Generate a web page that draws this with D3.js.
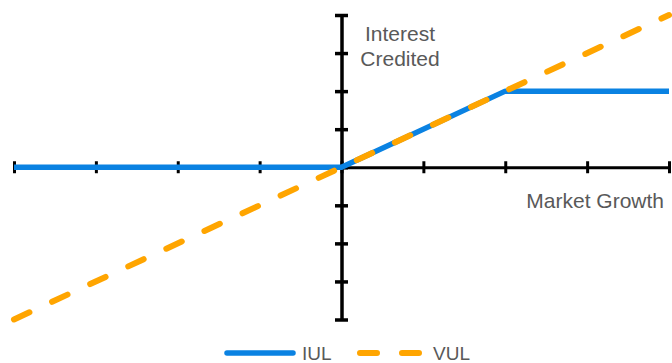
<!DOCTYPE html>
<html>
<head>
<meta charset="utf-8">
<script src="https://cdn.jsdelivr.net/npm/d3@7"></script>
<style>
  body { margin: 0; background: #fff; }
  text { font-family: "Liberation Sans", Arial, sans-serif; fill: #595959; }
</style>
</head>
<body>
<svg id="chart" width="672" height="363"></svg>
<script>
// données
const tickValues = [-4, -3, -2, -1, 0, 1, 2, 3, 4];
const marketGrowth = [-4, 0, 2, 4];
const iulCredited = [0, 0, 2, 2];
const vulGrowth = [-4, 4];
const vulCredited = [-4, 4];
const seriesNames = ["IUL", "VUL"];

const svg = d3.select("#chart");

var x = d3.scaleLinear().domain([-4, 4]).range([14, 669]);
var y = d3.scaleLinear().domain([-4, 4]).range([319.5, 15]);

// axe horizontal (traverse au milieu)
var xAxis = svg.append("g")
    .attr("transform", `translate(0, ${y(0)})`)
    .call(d3.axisBottom(x).tickValues(tickValues).tickSizeOuter(0).tickFormat(""));
xAxis.select(".domain").attr("stroke", "#000").attr("stroke-width", 3);
xAxis.selectAll(".tick line").attr("y1", -6).attr("y2", 6)
    .attr("stroke", "#000").attr("stroke-width", 3);

// axe vertical
var yAxis = svg.append("g")
    .attr("transform", `translate(${x(0)}, 0)`)
    .call(d3.axisLeft(y).tickValues(tickValues).tickSizeOuter(0).tickFormat(""));
yAxis.select(".domain").attr("stroke", "#000").attr("stroke-width", 3.5);
yAxis.selectAll(".tick line").attr("x1", -6.5).attr("x2", 6.5)
    .attr("stroke", "#000").attr("stroke-width", 3.5);

// libellés des axes
svg.append("text").attr("x", 400).attr("y", 41).attr("text-anchor", "middle")
    .attr("font-size", 21).text("Interest");
svg.append("text").attr("x", 400).attr("y", 65.5).attr("text-anchor", "middle")
    .attr("font-size", 21).text("Credited");
svg.append("text").attr("x", 664).attr("y", 207.5).attr("text-anchor", "end")
    .attr("font-size", 21).text("Market Growth");

var line = d3.line().x(d => x(d[0])).y(d => y(d[1]));

// IUL
svg.append("path")
    .attr("d", line(d3.zip(marketGrowth, iulCredited)))
    .attr("fill", "none")
    .attr("stroke", "#0a82e2")
    .attr("stroke-width", 5.5)
    .attr("stroke-linejoin", "round");

// VUL
svg.append("path")
    .attr("d", line(d3.zip(vulGrowth, vulCredited)))
    .attr("fill", "none")
    .attr("stroke", "#ffa500")
    .attr("stroke-width", 6)
    .attr("stroke-linecap", "round")
    .attr("stroke-dasharray", "17 25");

// légende
var legend = svg.append("g");
legend.append("line").attr("x1", 227).attr("x2", 293).attr("y1", 353).attr("y2", 353)
    .attr("stroke", "#0a82e2").attr("stroke-width", 5.5).attr("stroke-linecap", "round");
legend.append("text").attr("x", 302).attr("y", 360).attr("font-size", 19).text(seriesNames[0]);
legend.append("line").attr("x1", 360).attr("x2", 420).attr("y1", 353).attr("y2", 353)
    .attr("stroke", "#ffa500").attr("stroke-width", 6).attr("stroke-linecap", "round")
    .attr("stroke-dasharray", "17 25");
legend.append("text").attr("x", 433).attr("y", 360).attr("font-size", 19).text(seriesNames[1]);
</script>
</body>
</html>
